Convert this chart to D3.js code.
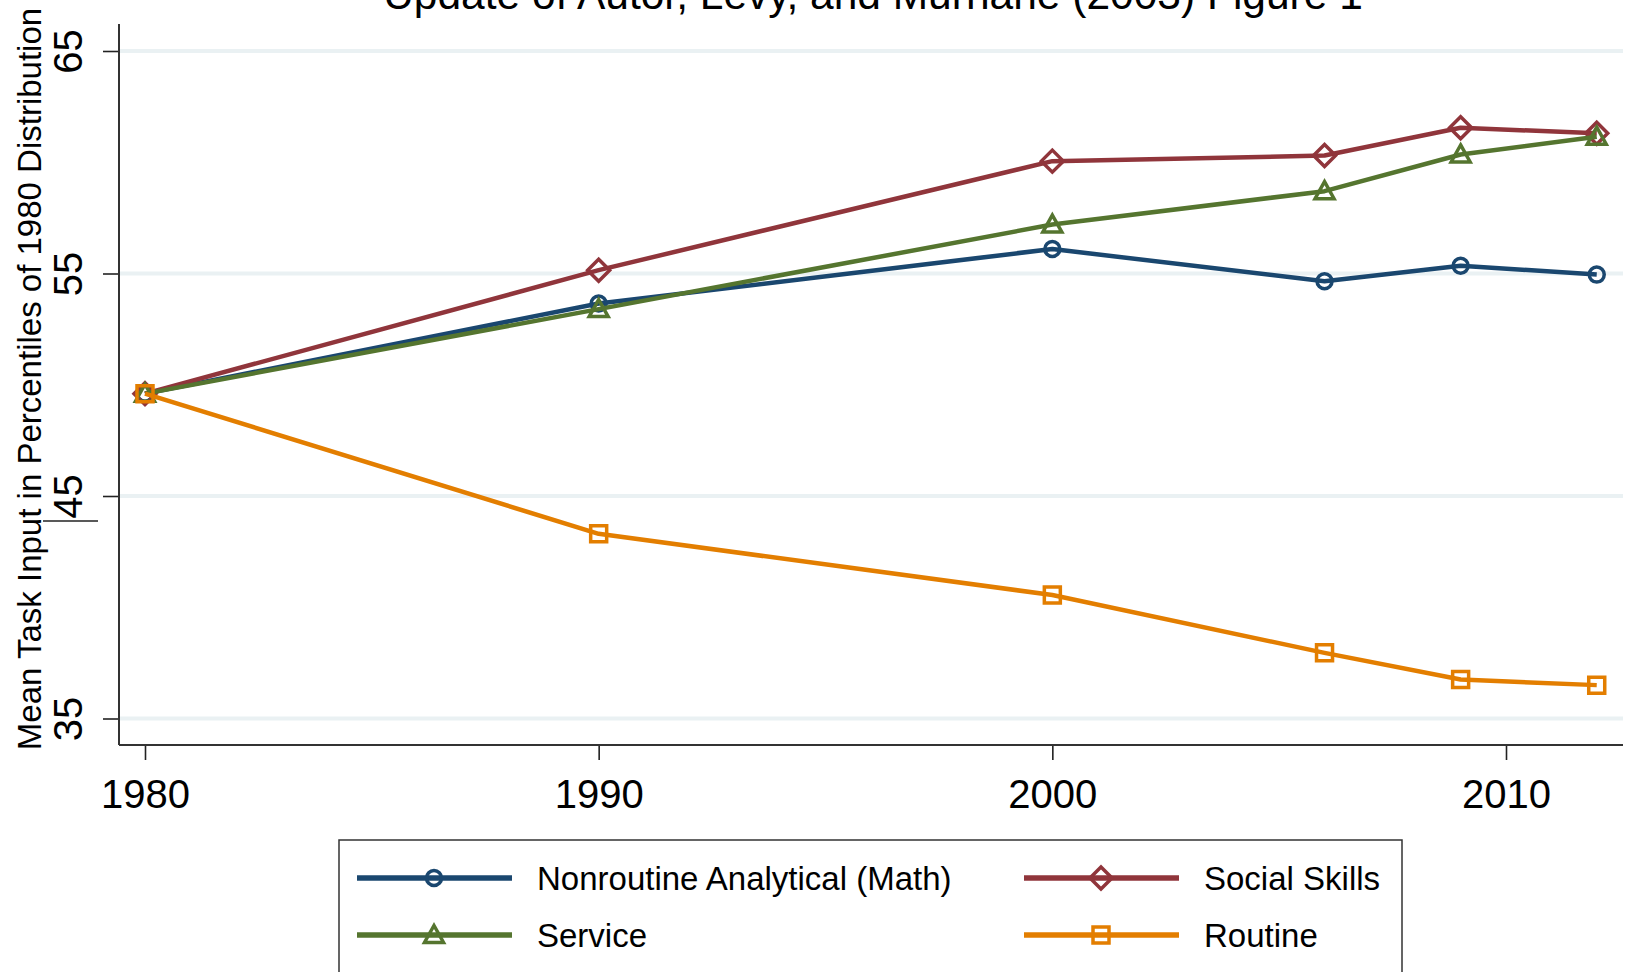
<!DOCTYPE html>
<html>
<head>
<meta charset="utf-8">
<script src="https://cdn.jsdelivr.net/npm/d3@7"></script>
<style>
  html, body { margin: 0; padding: 0; background: #fff; }
  svg { display: block; font-family: "Liberation Sans", Arial, sans-serif; }
</style>
</head>
<body>
<div id="chart"></div>
<script>
/* ===== Data ===== */
const years = [1980, 1990, 2000, 2006, 2009, 2012];
const mathVals    = [49.6, 53.65, 56.1, 54.65, 55.35, 54.95];
const socialVals  = [49.6, 55.15, 60.05, 60.3, 61.55, 61.3];
const serviceVals = [49.6, 53.4, 57.2, 58.7, 60.35, 61.15];
const routineVals = [49.6, 43.3, 40.55, 37.95, 36.75, 36.5];
const xTicks = [1980, 1990, 2000, 2010];
const yTicks = [35, 45, 55, 65];

const series = [
  { name: "Nonroutine Analytical (Math)", values: mathVals,    color: "#1a476f", marker: "circle" },
  { name: "Social Skills",                values: socialVals,  color: "#90353b", marker: "diamond" },
  { name: "Service",                      values: serviceVals, color: "#55752f", marker: "triangle" },
  { name: "Routine",                      values: routineVals, color: "#e37e00", marker: "square" },
];

/* ===== Setup ===== */
const W = 1633, H = 972;
const axisX = 119, axisY = 745, plotRight = 1623, plotTop = 24;

const svg = d3.select("#chart").append("svg")
  .attr("width", W).attr("height", H)
  .attr("viewBox", [0, 0, W, H]);

const x = d3.scaleLinear().domain([1980, 2010]).range([145, 1506]);
const y = d3.scaleLinear().domain([35, 65]).range([718.5, 51]);

/* ===== Markers ===== */
function markerPath(type) {
  if (type === "circle") return d3.symbol(d3.symbolCircle, Math.PI * 7.5 * 7.5)();
  if (type === "square") return "M-8,-8H8V8H-8Z";
  if (type === "diamond") return "M0,-11L11,0L0,11L-11,0Z";
  if (type === "triangle") return "M0,-9.5L9.5,7.5L-9.5,7.5Z";
}

/* ===== Title (cut off at top) ===== */
svg.append("text")
  .attr("x", 873).attr("y", 9)
  .attr("text-anchor", "middle")
  .attr("font-size", 42.5)
  .attr("fill", "#000")
  .text("Update of Autor, Levy, and Murnane (2003) Figure 1");

/* ===== Gridlines ===== */
svg.append("g")
  .selectAll("line")
  .data(yTicks)
  .join("line")
  .attr("x1", axisX + 1).attr("x2", plotRight)
  .attr("y1", d => y(d)).attr("y2", d => y(d))
  .attr("stroke", "#eaf1f3")
  .attr("stroke-width", 4);

/* ===== Axes ===== */
const yAxis = svg.append("g")
  .attr("transform", `translate(${axisX},0)`)
  .call(d3.axisLeft(y).tickValues(yTicks).tickSize(16).tickFormat(d3.format("d")));
yAxis.select(".domain").remove();
yAxis.selectAll(".tick line").attr("stroke", "#222").attr("stroke-width", 1.6);
yAxis.selectAll(".tick text")
  .attr("transform", "rotate(-90)")
  .attr("x", 0).attr("y", -51)
  .attr("dy", null)
  .attr("dominant-baseline", "central")
  .attr("text-anchor", "middle")
  .attr("font-size", 40)
  .attr("font-family", "Liberation Sans, Arial, sans-serif")
  .attr("fill", "#000");
svg.append("line")
  .attr("x1", axisX).attr("x2", axisX)
  .attr("y1", plotTop).attr("y2", axisY)
  .attr("stroke", "#333").attr("stroke-width", 2);

const xAxis = svg.append("g")
  .attr("transform", `translate(0,${axisY})`)
  .call(d3.axisBottom(x).tickValues(xTicks).tickSize(15).tickPadding(20).tickFormat(d3.format("d")));
xAxis.select(".domain").remove();
xAxis.selectAll(".tick line").attr("stroke", "#222").attr("stroke-width", 1.6);
xAxis.selectAll(".tick text")
  .attr("font-size", 40)
  .attr("font-family", "Liberation Sans, Arial, sans-serif")
  .attr("fill", "#000");
svg.append("line")
  .attr("x1", axisX).attr("x2", plotRight)
  .attr("y1", axisY).attr("y2", axisY)
  .attr("stroke", "#333").attr("stroke-width", 2);

// stray line under the "45" label, as in the original export
svg.append("line")
  .attr("x1", 43).attr("x2", 98)
  .attr("y1", 521).attr("y2", 521)
  .attr("stroke", "#222").attr("stroke-width", 1.4);

/* ===== Y title ===== */
svg.append("text")
  .attr("transform", `translate(29,379) rotate(-90)`)
  .attr("text-anchor", "middle")
  .attr("dominant-baseline", "central")
  .attr("font-size", 33)
  .attr("fill", "#000")
  .text("Mean Task Input in Percentiles of 1980 Distribution");

/* ===== Lines + markers ===== */
const line = d3.line().x(d => x(d[0])).y(d => y(d[1]));

series.forEach(s => {
  const pts = years.map((yr, i) => [yr, s.values[i]]);
  const g = svg.append("g");
  g.append("path")
    .attr("d", line(pts))
    .attr("fill", "none")
    .attr("stroke", s.color)
    .attr("stroke-width", 4.5)
    .attr("stroke-linejoin", "round");
  g.selectAll("path.mk")
    .data(pts)
    .join("path")
    .attr("class", "mk")
    .attr("transform", d => `translate(${x(d[0])},${y(d[1])})`)
    .attr("d", markerPath(s.marker))
    .attr("fill", "none")
    .attr("stroke", s.color)
    .attr("stroke-width", 3.5);
});

/* ===== Legend ===== */
const legend = svg.append("g");
legend.append("rect")
  .attr("x", 339).attr("y", 840)
  .attr("width", 1063).attr("height", 150)
  .attr("fill", "#fff")
  .attr("stroke", "#333").attr("stroke-width", 1.5);

const legPos = [
  { lx: 357, ty: 878 }, { lx: 1024, ty: 878 },
  { lx: 357, ty: 935 }, { lx: 1024, ty: 935 },
];
series.forEach((s, i) => {
  const p = legPos[i];
  const g = legend.append("g");
  g.append("line")
    .attr("x1", p.lx).attr("x2", p.lx + 155)
    .attr("y1", p.ty).attr("y2", p.ty)
    .attr("stroke", s.color).attr("stroke-width", 5.5);
  g.append("path")
    .attr("transform", `translate(${p.lx + 77},${p.ty})`)
    .attr("d", markerPath(s.marker))
    .attr("fill", "none")
    .attr("stroke", s.color).attr("stroke-width", 3.5);
  g.append("text")
    .attr("x", p.lx + 180).attr("y", p.ty)
    .attr("dominant-baseline", "central")
    .attr("font-size", 33)
    .attr("fill", "#000")
    .text(s.name);
});
</script>
</body>
</html>
